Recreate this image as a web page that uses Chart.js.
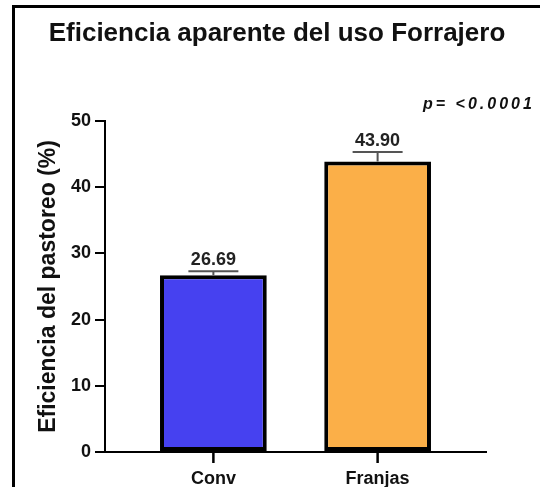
<!DOCTYPE html>
<html>
<head>
<meta charset="utf-8">
<script src="https://cdn.jsdelivr.net/npm/chart.js@4/dist/chart.umd.min.js"></script>
<style>
  html, body { margin: 0; padding: 0; background: #fff; }
  #wrap { position: relative; width: 540px; height: 487px; overflow: hidden; }
  #frame { position: absolute; left: 12px; top: 5px; width: 600px; height: 600px; border-left: 3px solid #000; border-top: 3px solid #000; }
  canvas { position: absolute; left: 0; top: 0; }
</style>
</head>
<body>
<div id="wrap">
  <div id="frame"></div>
  <canvas id="chart" width="540" height="487"></canvas>
</div>
<script>
const categories = ['Conv', 'Franjas'];
const means = [26.69, 43.90];
const errors = [0.6, 1.4];
const barColors = ['#4641F0', '#FBAF48'];
const yTicks = [0, 10, 20, 30, 40, 50];
const chartTitle = 'Eficiencia aparente del uso Forrajero';
const yTitle = 'Eficiencia del pastoreo (%)';
const pValueText = 'p= <0.0001';

const fontFamily = '"Liberation Sans", Arial, sans-serif';

// error bars, value labels, x tick marks, title and p-value
const annotationsPlugin = {
    id: 'annotations',
    afterDraw(chart) {
        const ctx = chart.ctx;
        const xScale = chart.scales.x;
        const yScale = chart.scales.y;
        const meta = chart.getDatasetMeta(0);
        ctx.save();
        meta.data.forEach((bar, i) => {
            const top = yScale.getPixelForValue(means[i] + errors[i]);
            ctx.strokeStyle = '#555';
            ctx.lineWidth = 2;
            ctx.beginPath();
            ctx.moveTo(bar.x, bar.y);
            ctx.lineTo(bar.x, top);
            ctx.moveTo(bar.x - 25, top);
            ctx.lineTo(bar.x + 25, top);
            ctx.stroke();

            ctx.fillStyle = '#222';
            ctx.font = 'bold 18px ' + fontFamily;
            ctx.textAlign = 'center';
            ctx.textBaseline = 'bottom';
            ctx.fillText(means[i].toFixed(2), bar.x, top - 2);
        });

        // tick marks under the categories
        ctx.strokeStyle = '#000';
        ctx.lineWidth = 2.5;
        categories.forEach((c, i) => {
            const px = xScale.getPixelForValue(i);
            ctx.beginPath();
            ctx.moveTo(px, yScale.bottom);
            ctx.lineTo(px, yScale.bottom + 11);
            ctx.stroke();
        });

        ctx.fillStyle = '#111';
        ctx.font = 'bold 26px ' + fontFamily;
        ctx.textAlign = 'center';
        ctx.textBaseline = 'middle';
        ctx.fillText(chartTitle, 277, 34);

        ctx.font = 'italic bold 16px ' + fontFamily;
        ctx.textAlign = 'left';
        ctx.letterSpacing = '3px';
        ctx.fillText(pValueText, 423, 105);
        ctx.restore();
    }
};

const ctx = document.getElementById('chart').getContext('2d');
new Chart(ctx, {
    type: 'bar',
    data: {
        datasets: [{
            data: categories.map((c, i) => ({ x: i, y: means[i] })),
            backgroundColor: barColors,
            borderColor: '#000',
            borderWidth: 4,
            borderSkipped: false,
            barPercentage: 0.65,
            categoryPercentage: 1
        }]
    },
    options: {
        responsive: false,
        animation: false,
        layout: {
            padding: { left: 0, right: 54, top: 121, bottom: 0 }
        },
        scales: {
            x: {
                type: 'linear',
                min: -0.66,
                max: 1.66,
                offset: false,
                afterBuildTicks: scale => {
                    scale.ticks = categories.map((c, i) => ({ value: i }));
                },
                afterFit: scale => { scale.height = 35; },
                grid: {
                    offset: false,
                    drawOnChartArea: false,
                    drawTicks: false
                },
                border: { color: '#000', width: 2 },
                ticks: {
                    callback: v => categories[v],
                    autoSkip: false,
                    maxRotation: 0,
                    padding: 16,
                    color: '#111',
                    font: { family: fontFamily, size: 18, weight: 'bold' }
                }
            },
            y: {
                min: 0,
                max: 50,
                afterBuildTicks: scale => {
                    scale.ticks = yTicks.map(v => ({ value: v }));
                },
                afterFit: scale => { scale.width = 105; },
                grid: {
                    drawOnChartArea: false,
                    tickLength: 10,
                    color: '#000',
                    lineWidth: 2
                },
                border: { color: '#000', width: 2 },
                ticks: {
                    padding: 4,
                    color: '#111',
                    font: { family: fontFamily, size: 18, weight: 'bold' }
                },
                title: {
                    display: true,
                    text: yTitle,
                    color: '#111',
                    padding: { top: 35, bottom: 0 },
                    font: { family: fontFamily, size: 23, weight: 'bold' }
                }
            }
        },
        plugins: {
            legend: { display: false },
            tooltip: { enabled: false }
        }
    },
    plugins: [annotationsPlugin]
});
</script>
</body>
</html>
